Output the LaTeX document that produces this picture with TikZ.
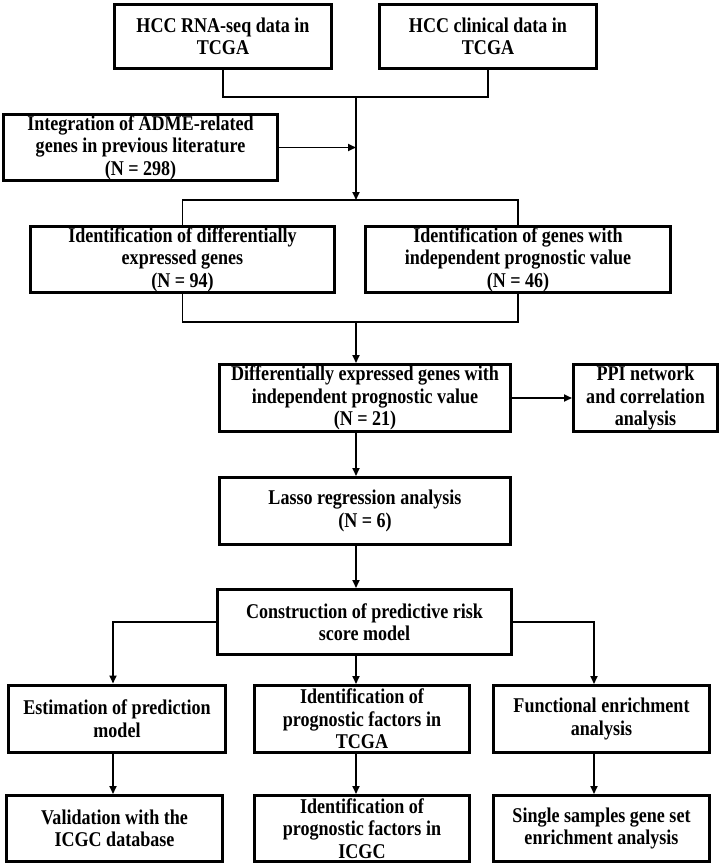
\documentclass[tikz,border=0pt]{standalone}
\usepackage{fontspec}
\setmainfont[FakeStretch=0.86]{Liberation Serif}
\usetikzlibrary{arrows.meta}
\begin{document}
\begin{tikzpicture}[x=1pt,y=-1pt,
  box/.style={draw,line width=3pt,align=center,inner sep=0pt,
    font=\fontsize{21}{22.5}\selectfont\bfseries},
  link/.style={line width=1.8pt},
  arr/.style={link,-{Triangle[length=8pt,width=7pt]}}]
  \useasboundingbox (0,0) rectangle (720,865);
  % columns of the trunk and the three branches
  \coordinate (cl) at (113,0);
  \coordinate (cm) at (356,0);
  \coordinate (cr) at (594,0);

  \node[box,minimum width=217,minimum height=64] (rna) at (223,36.5) {HCC RNA-seq data in\\TCGA};
  \node[box,minimum width=217,minimum height=64] (clin) at (488,36.5) {HCC clinical data in\\TCGA};
  \node[box,minimum width=274,minimum height=66] (adme) at (140.5,147.5) {Integration of ADME-related\\genes in previous literature\\(N = 298)};
  \node[box,minimum width=304,minimum height=66] (deg) at (182.5,259.5) {Identification of differentially\\expressed genes\\(N = 94)};
  \node[box,minimum width=305,minimum height=66] (ipv) at (518,259.5) {Identification of genes with\\independent prognostic value\\(N = 46)};
  \node[box,minimum width=291,minimum height=67] (both) at (365,398) {Differentially expressed genes with\\independent prognostic value\\(N = 21)};
  \node[box,minimum width=144,minimum height=67] (ppi) at (645.5,398) {PPI network\\and correlation\\analysis};
  \node[box,minimum width=291,minimum height=67] (lasso) at (365,511) {Lasso regression analysis\\(N = 6)};
  \node[box,minimum width=294,minimum height=65] (model) at (364.5,622) {Construction of predictive risk\\score model};
  \node[box,minimum width=217,minimum height=67] (est) at (117,718.5) {Estimation of prediction\\model};
  \node[box,minimum width=215,minimum height=67] (tcga) at (362,719) {Identification of\\prognostic factors in\\TCGA};
  \node[box,minimum width=216,minimum height=67] (func) at (601.5,719) {Functional enrichment\\analysis};
  \node[box,minimum width=216,minimum height=66] (val) at (114.5,828.5) {Validation with the\\ICGC database};
  \node[box,minimum width=215,minimum height=66] (icgc) at (362,828.5) {Identification of\\prognostic factors in\\ICGC};
  \node[box,minimum width=216,minimum height=66] (ssgsea) at (601.5,828.5) {Single samples gene set\\enrichment analysis};

  \coordinate (j1) at (356,97);
  \coordinate (j2) at (356,200);
  \coordinate (j3) at (356,322);

  \draw[link] (rna.south) |- (j1) -| (clin.south);
  \draw[arr] (j1) -- (j2);
  \draw[arr] (adme.east) -- (adme.east -| cm);
  \draw[link] (deg.north) |- (j2) -| (ipv.north);
  \draw[link] (deg.south) |- (j3) -| (ipv.south);
  \draw[arr] (j3) -- (both.north -| cm);
  \draw[arr] (both.east) -- (ppi.west);
  \draw[arr] (both.south -| cm) -- (lasso.north -| cm);
  \draw[arr] (lasso.south -| cm) -- (model.north -| cm);
  \draw[arr] (model.west) -| (est.north -| cl);
  \draw[arr] (model.east) -| (func.north -| cr);
  \draw[arr] (model.south -| cm) -- (tcga.north -| cm);
  \draw[arr] (est.south -| cl) -- (val.north -| cl);
  \draw[arr] (tcga.south -| cm) -- (icgc.north -| cm);
  \draw[arr] (func.south -| cr) -- (ssgsea.north -| cr);
\end{tikzpicture}
\end{document}
